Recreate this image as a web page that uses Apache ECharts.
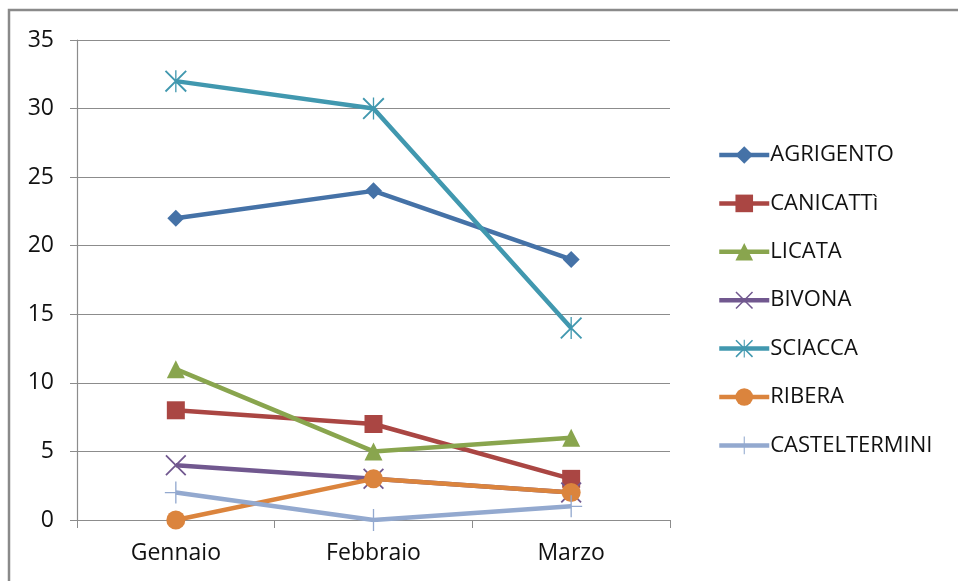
<!DOCTYPE html>
<html>
<head>
<meta charset="utf-8">
<script src="https://cdn.jsdelivr.net/npm/echarts@6/dist/echarts.min.js"></script>
<style>
  html, body { margin: 0; padding: 0; background: #fff; }
  #chart { width: 958px; height: 581px; }
</style>
</head>
<body>
<div id="chart"></div>
<script>
// Months on the category axis
const months = ['Gennaio', 'Febbraio', 'Marzo'];

// Monthly counts per town
const agrigento = [22, 24, 19];
const canicatti = [8, 7, 3];
const licata = [11, 5, 6];
const bivona = [4, 3, 2];
const sciacca = [32, 30, 14];
const ribera = [0, 3, 2];
const casteltermini = [2, 0, 1];

// Value axis range
const yMin = 0;
const yMax = 35;
const yStep = 5;

// Outline-style markers built from thin filled bars
const crossX = 'path://M0,1.2L1.2,0L20,18.8L18.8,20Z M18.8,0L20,1.2L1.2,20L0,18.8Z';
const asterisk = 'path://M0,1.2L1.2,0L20,18.8L18.8,20Z M18.8,0L20,1.2L1.2,20L0,18.8Z M9.4,0L10.6,0L10.6,20L9.4,20Z';
const plus = 'path://M9.4,0L10.6,0L10.6,20L9.4,20Z M0,9.4L20,9.4L20,10.6L0,10.6Z';

const font = '"Open Sans", "Noto Sans", sans-serif';

function lineSeries(name, data, color, symbol, size) {
  return {
    name: name,
    type: 'line',
    data: data,
    symbol: symbol,
    symbolSize: size,
    symbolKeepAspect: true,
    lineStyle: { color: color, width: 4.5 },
    itemStyle: { color: color },
    emphasis: { disabled: true },
    z: 2
  };
}

const chart = echarts.init(document.getElementById('chart'), null, { renderer: 'canvas' });
chart.setOption({
  animation: false,
  backgroundColor: '#ffffff',
  textStyle: { fontFamily: font },
  graphic: [{
    type: 'rect',
    shape: { x: 9, y: 10, width: 1000, height: 700 },
    style: { fill: 'none', stroke: '#8a8a8a', lineWidth: 2.5 },
    silent: true,
    z: -1
  }],
  grid: { left: 77, right: 288, top: 40, bottom: 61 },
  legend: {
    orient: 'vertical',
    left: 712,
    top: 139,
    itemWidth: 50,
    itemHeight: 22,
    itemGap: 26.4,
    lineStyle: { width: 4.5 },
    textStyle: { fontFamily: font, fontSize: 22, color: '#111', padding: [0, 0, 0, -4] },
    data: ['AGRIGENTO', 'CANICATTì', 'LICATA', 'BIVONA', 'SCIACCA', 'RIBERA', 'CASTELTERMINI']
  },
  xAxis: {
    type: 'category',
    data: months,
    boundaryGap: true,
    axisLine: { lineStyle: { color: '#8c8c8c', width: 1.2 } },
    axisTick: { show: true, length: 8, lineStyle: { color: '#8c8c8c' } },
    axisLabel: { fontFamily: font, fontSize: 23, color: '#111', margin: 22 }
  },
  yAxis: {
    type: 'value',
    min: yMin,
    max: yMax,
    interval: yStep,
    axisLine: { show: true, lineStyle: { color: '#8c8c8c', width: 1.2 } },
    axisTick: { show: true, length: 7, lineStyle: { color: '#8c8c8c' } },
    splitLine: { lineStyle: { color: '#8c8c8c', width: 1.2 } },
    axisLabel: { fontFamily: font, fontSize: 23, color: '#111', margin: 23 }
  },
  series: [
    lineSeries('AGRIGENTO', agrigento, '#4572A7', 'diamond', 17),
    lineSeries('CANICATTì', canicatti, '#AA4643', 'rect', 18),
    lineSeries('LICATA', licata, '#89A54E', 'triangle', 18),
    lineSeries('BIVONA', bivona, '#71588F', crossX, 21),
    lineSeries('SCIACCA', sciacca, '#4198AF', asterisk, 22),
    lineSeries('RIBERA', ribera, '#DB843D', 'circle', 19),
    lineSeries('CASTELTERMINI', casteltermini, '#93A9CF', plus, 22)
  ]
});
</script>
</body>
</html>
